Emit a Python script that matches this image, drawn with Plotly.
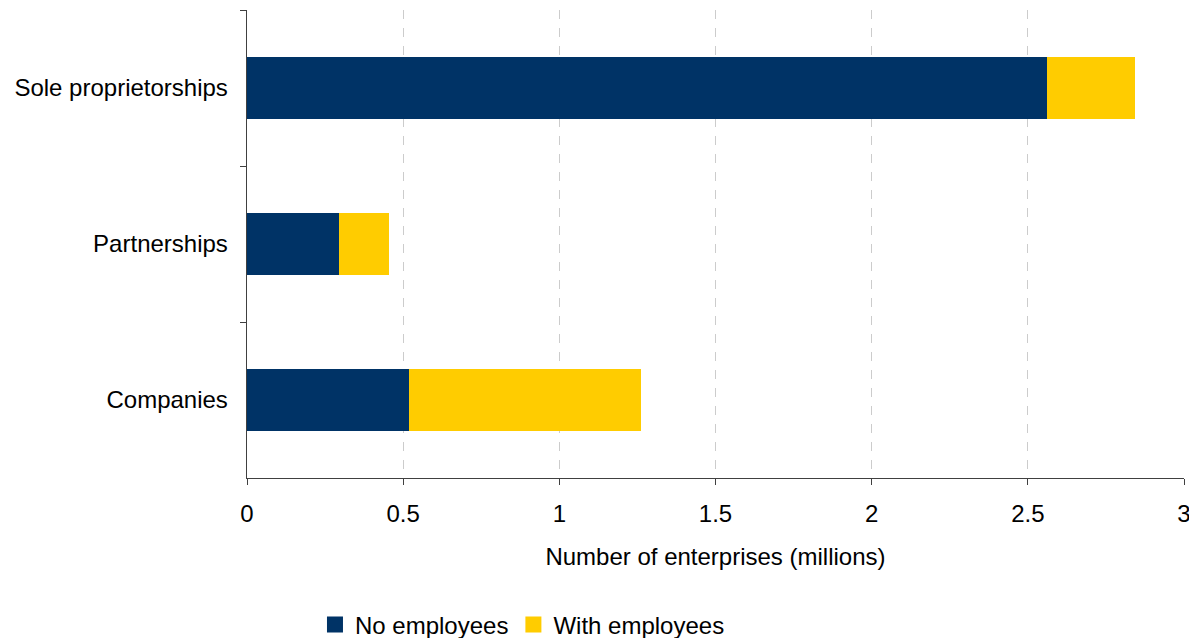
import plotly.graph_objects as go

categories = ["Sole proprietorships", "Partnerships", "Companies"]
no_employees = [2.562, 0.295, 0.519]
with_employees = [0.281, 0.160, 0.743]
series_names = ["No employees", "With employees"]
series_colors = ["#003366", "#FFCC00"]
x_ticks = [0, 0.5, 1, 1.5, 2, 2.5, 3]
x_tick_labels = ["0", "0.5", "1", "1.5", "2", "2.5", "3"]

fig = go.Figure()
for vals, name, color in zip([no_employees, with_employees], series_names, series_colors):
    fig.add_trace(go.Bar(y=categories, x=vals, orientation="h", name=name,
                         marker=dict(color=color, line=dict(width=0)),
                         legendgroup=name, showlegend=False))
# legend entries with larger square swatches
for name, color in zip(series_names, series_colors):
    fig.add_trace(go.Scatter(x=[None], y=[None], mode="markers", name=name,
                             legendgroup=name,
                             marker=dict(symbol="square", size=16, color=color)))

font = "Liberation Sans, Arial, sans-serif"
fig.update_layout(
    barmode="stack",
    bargap=0.6,
    width=1189, height=630,
    margin=dict(l=239, r=13, t=2, b=160, autoexpand=False),
    plot_bgcolor="white", paper_bgcolor="white",
    font=dict(family=font, size=24, color="#000000"),
    showlegend=True,
    legend=dict(orientation="h", x=0.294, xanchor="center", y=-0.314, yanchor="middle",
                font=dict(size=24), traceorder="normal", itemwidth=30,
                tracegroupgap=0),
    xaxis=dict(range=[0, 3], tickvals=x_ticks, ticktext=x_tick_labels,
               showgrid=True, gridcolor="#cccccc", griddash="dash", gridwidth=1,
               showline=True, linecolor="#404040", linewidth=1,
               ticks="outside", ticklen=6, tickcolor="#404040",
               ticklabelstandoff=8,
               zeroline=False, automargin=False,
               title=dict(text="Number of enterprises (millions)", standoff=22,
                          font=dict(size=24))),
    yaxis=dict(categoryorder="array", categoryarray=categories, autorange="reversed",
               showline=True, linecolor="#404040", linewidth=1,
               ticks="outside", ticklen=6, tickcolor="#404040", tickson="boundaries",
               showgrid=False, ticksuffix="  ", automargin=False),
)

fig.write_html("out.html")
